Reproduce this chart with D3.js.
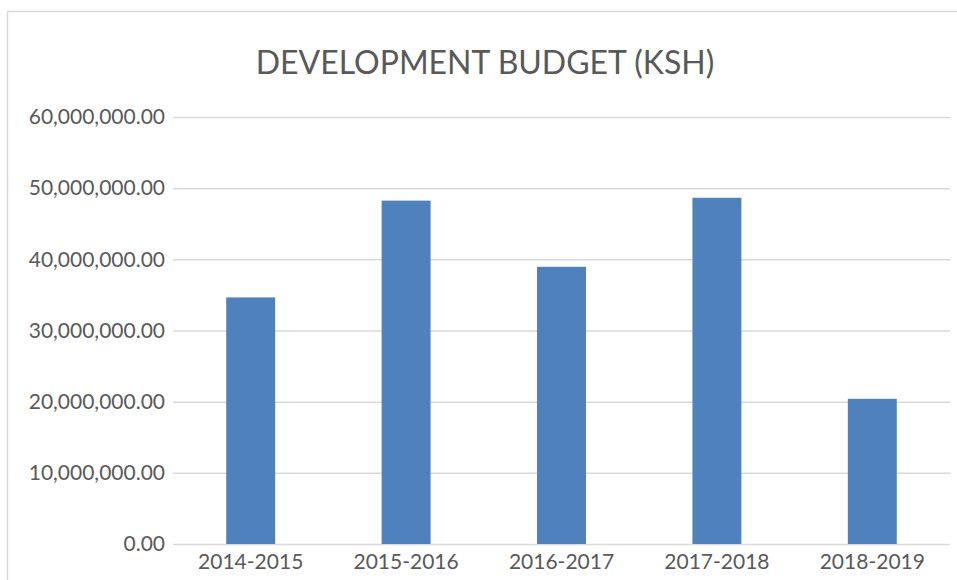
<!DOCTYPE html>
<html>
<head>
<meta charset="utf-8">
<script src="https://cdn.jsdelivr.net/npm/d3@7"></script>
<style>
    html, body { margin: 0; padding: 0; background: #ffffff; }
    svg { display: block; }
</style>
</head>
<body>
<div id="chart"></div>
<script>

// --- Data ------------------------------------------------------------------ //
var years = ['2014-2015', '2015-2016', '2016-2017', '2017-2018', '2018-2019'];
var budget = [34650000, 48250000, 38950000, 48650000, 20400000];
var yTicks = [0, 10000000, 20000000, 30000000, 40000000, 50000000, 60000000];
var chartTitle = 'DEVELOPMENT BUDGET (KSH)';

// --- Config ---------------------------------------------------------------- //
var Config = {
    Width: 957,
    Height: 580,
    Left: 173,
    Right: 950,
    Top: 117,
    Bottom: 544,
    BarColor: '#4f81bd',
    GridColor: '#d9d9d9',
    TextColor: '#595959',
    Font: 'Lato, "Open Sans", sans-serif'
};

function renderChart() {

    var svg = d3.select('#chart').append('svg')
        .attr('width', Config.Width)
        .attr('height', Config.Height);

    // chart area border
    svg.append('rect')
        .attr('x', 7.5)
        .attr('y', 11.5)
        .attr('width', 1000)
        .attr('height', 700)
        .attr('fill', '#ffffff')
        .attr('stroke', Config.GridColor)
        .attr('stroke-width', 1.5);

    var x = d3.scaleBand()
        .domain(years)
        .range([Config.Left, Config.Right])
        .paddingInner(0.685)
        .paddingOuter(0.3425);

    var y = d3.scaleLinear()
        .domain([0, 60000000])
        .range([Config.Bottom, Config.Top]);

    var fmt = d3.format(',.2f');

    // gridlines + y labels
    var yAxis = d3.axisLeft(y)
        .tickValues(yTicks)
        .tickSize(-(Config.Right - Config.Left))
        .tickPadding(8)
        .tickFormat(fmt);

    var gy = svg.append('g')
        .attr('transform', 'translate(' + Config.Left + ',0)')
        .call(yAxis);

    gy.select('.domain').remove();
    gy.selectAll('.tick line')
        .attr('stroke', Config.GridColor)
        .attr('stroke-width', 1.5);
    gy.selectAll('.tick text')
        .attr('fill', Config.TextColor)
        .attr('font-family', Config.Font)
        .attr('font-size', '21px');

    // bars
    svg.append('g').selectAll('rect')
        .data(years)
        .enter().append('rect')
        .attr('x', function (d) { return x(d); })
        .attr('y', function (d, i) { return y(budget[i]); })
        .attr('width', x.bandwidth())
        .attr('height', function (d, i) { return Config.Bottom - y(budget[i]); })
        .attr('fill', Config.BarColor);

    // x labels
    var xAxis = d3.axisBottom(x)
        .tickSize(0)
        .tickPadding(10);

    var gx = svg.append('g')
        .attr('transform', 'translate(0,' + Config.Bottom + ')')
        .call(xAxis);

    gx.select('.domain').remove();
    gx.selectAll('.tick text')
        .attr('fill', Config.TextColor)
        .attr('font-family', Config.Font)
        .attr('font-size', '21px');

    // title
    svg.append('text')
        .attr('x', 485)
        .attr('y', 74)
        .attr('text-anchor', 'middle')
        .attr('fill', Config.TextColor)
        .attr('font-family', Config.Font)
        .attr('font-size', '32px')
        .text(chartTitle);
}

renderChart();

</script>
</body>
</html>
